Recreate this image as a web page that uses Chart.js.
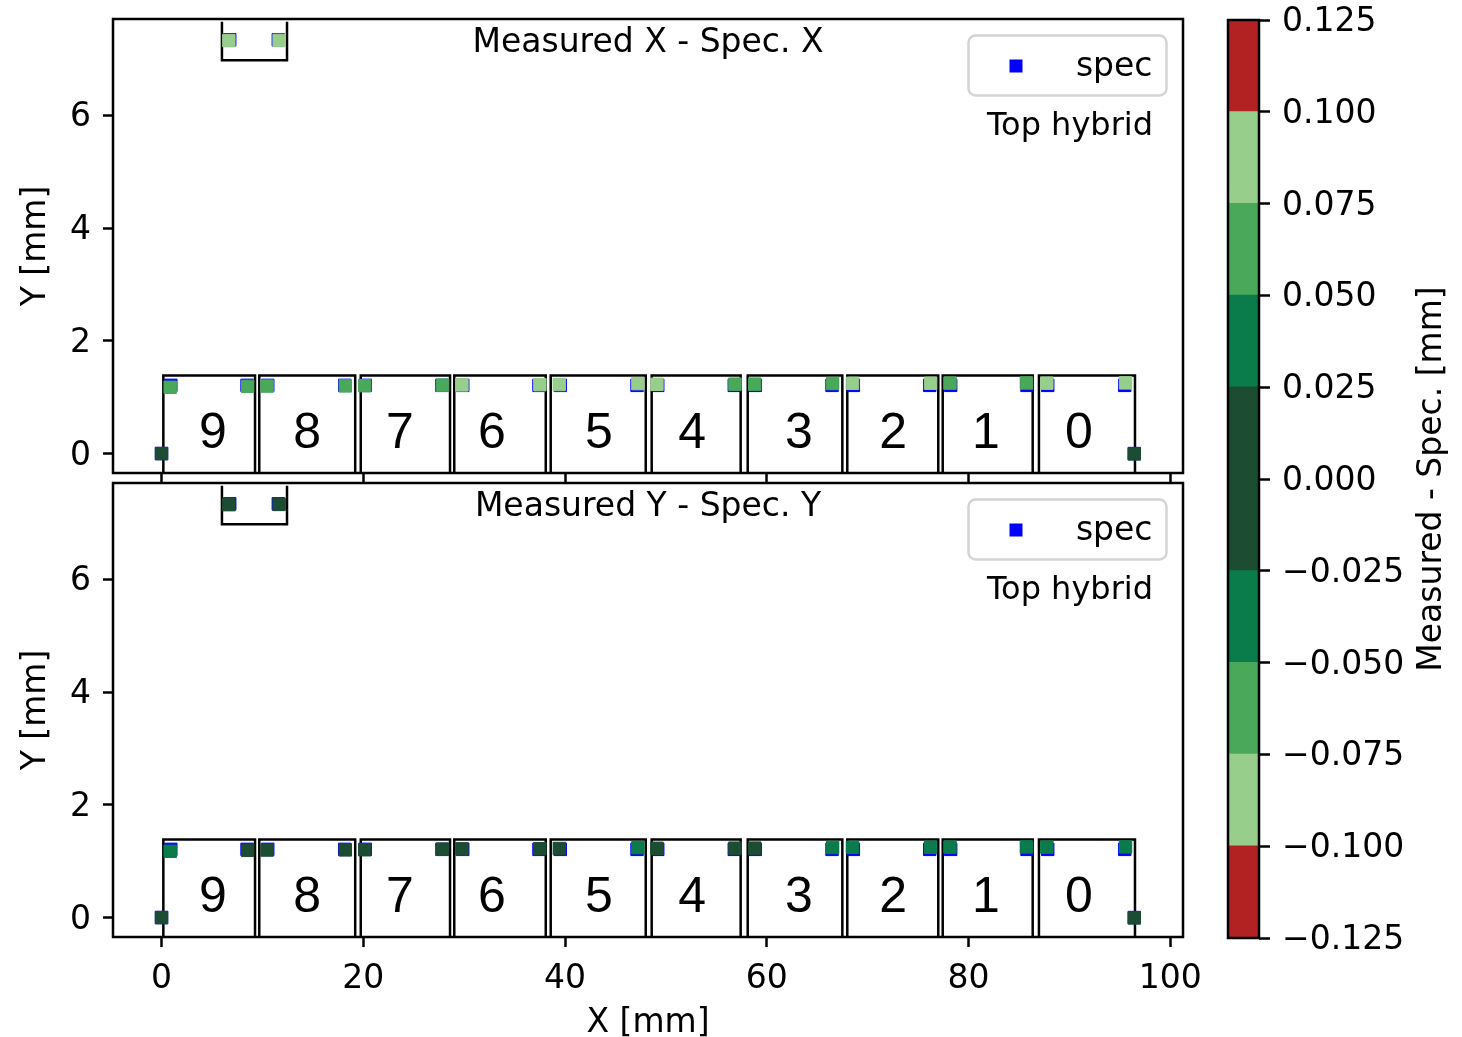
<!DOCTYPE html>
<html>
<head>
<meta charset="utf-8">
<script src="https://cdn.jsdelivr.net/npm/chart.js@4/dist/chart.umd.min.js"></script>
<style>
  html, body { margin: 0; padding: 0; background: #fff; overflow: hidden; width: 1462px; height: 1037px; }
  canvas { position: absolute; }
  #plotX { left: 0; top: 0; }
  #plotY { left: 0; top: 470px; }
  #cbar { left: 1200px; top: 0; }
</style>
</head>
<body>
<canvas id="plotX" width="1240" height="500" style="width:1240px;height:500px"></canvas>
<canvas id="plotY" width="1240" height="590" style="width:1240px;height:590px"></canvas>
<canvas id="cbar" width="262" height="1037" style="width:262px;height:1037px"></canvas>
<script>
// ---- hybrid layout (mm) ----
const chipIds    = ['9', '8', '7', '6', '5', '4', '3', '2', '1', '0'];
const chipLeft   = [0.18, 9.69, 19.75, 29.02, 38.58, 48.59, 58.11, 67.98, 77.44, 86.98];
const chipRight  = [9.27, 19.20, 28.60, 38.09, 48.00, 57.41, 67.49, 77.00, 86.36, 96.50];
const chipLabelX = [5.10, 14.43, 23.64, 32.76, 43.37, 52.59, 63.19, 72.52, 81.73, 90.95];
const chipTop = 1.385;
const chipBottom = -1.0;
const chipLabelY = 0.34;

// connector outline (open on top)
const bracketX = [5.99, 5.99, 12.44, 12.44];
const bracketY = [7.66, 6.98, 6.98, 7.66];

// fiducial points: left ref, chips 9..0 (left, right corner), right ref, connector pads
const specX = [0.00,
  0.92, 8.48, 10.53, 18.16, 20.20, 27.80, 29.86, 37.42, 39.53, 47.14,
  49.19, 56.78, 58.86, 66.47, 68.58, 76.15, 78.23, 85.80, 87.85, 95.48,
  96.43, 6.76, 11.58];
const specY = [0.00,
  1.21, 1.21, 1.21, 1.21, 1.21, 1.21, 1.21, 1.21, 1.21, 1.21,
  1.21, 1.21, 1.21, 1.21, 1.21, 1.21, 1.21, 1.21, 1.21, 1.21,
  0.00, 7.34, 7.34];

// measured - spec deviations (mm)
const devX = [0.000,
  -0.062, 0.058, -0.066, 0.061, -0.057, 0.064, -0.081, 0.086, -0.092, 0.083,
  -0.079, 0.068, -0.060, 0.055, -0.084, 0.088, -0.070, -0.063, -0.090, 0.082,
  0.004, -0.087, 0.080];
const devY = [0.000,
  -0.034, -0.018, -0.012, -0.009, -0.006, 0.004, 0.008, 0.012, 0.015, 0.031,
  0.019, 0.021, 0.022, 0.033, 0.036, 0.038, 0.040, 0.043, 0.039, 0.044,
  -0.006, -0.014, -0.010];

// axes
const xTicks = [0, 20, 40, 60, 80, 100];
const yTicks = [0, 2, 4, 6];
const xRange = [-4.81, 101.26];
const yRange = [-0.345, 7.71];

// colour scale
const cbTicks = [-0.125, -0.100, -0.075, -0.050, -0.025, 0.000, 0.025, 0.050, 0.075, 0.100, 0.125];
const cbColors = ['#b22222', '#98ce8b', '#49a859', '#0a7c4c', '#1c4d33',
                  '#1c4d33', '#0a7c4c', '#49a859', '#98ce8b', '#b22222'];

const FONT = "'DejaVu Sans', 'Noto Sans', sans-serif";
const CHIP_FONT = "'Liberation Sans', Arial, sans-serif";
const FS = 33;
const LINE_W = 2.5;

function devColor(v) {
  for (let i = 0; i < cbColors.length; i++) {
    if (v >= cbTicks[i] && v < cbTicks[i + 1]) return cbColors[i];
  }
  return v < cbTicks[0] ? cbColors[0] : cbColors[cbColors.length - 1];
}

function fmtMinus(v) {
  const s = Math.abs(v) < 1e-9 ? '0.000' : v.toFixed(3);
  return s.replace('-', '\u2212');
}

// let the layout padding alone decide where the plot area sits
function noLabelPadding(ax) {
  ax.paddingTop = 0; ax.paddingBottom = 0; ax.paddingLeft = 0; ax.paddingRight = 0;
}

// frame, titles, chip numbers and legend for one panel
const decor = {
  id: 'decor',
  afterDraw(chart, args, o) {
    const { ctx, chartArea: a } = chart;
    const xs = chart.scales.x, ys = chart.scales.y;
    ctx.save();

    // chip numbers
    ctx.fillStyle = '#000';
    ctx.font = '50px ' + CHIP_FONT;
    ctx.textAlign = 'center';
    ctx.textBaseline = 'middle';
    chipIds.forEach((id, i) => {
      ctx.fillText(id, xs.getPixelForValue(chipLabelX[i]), ys.getPixelForValue(chipLabelY));
    });

    // panel title
    ctx.font = FS + 'px ' + FONT;
    ctx.textBaseline = 'alphabetic';
    ctx.fillText(o.title, (a.left + a.right) / 2, a.top + 33);

    // legend box
    const bw = 198, bh = 60;
    const bx = a.right - 16.5 - bw, by = a.top + 16.5;
    ctx.beginPath();
    ctx.roundRect(bx, by, bw, bh, 7);
    ctx.fillStyle = 'rgba(255,255,255,0.8)';
    ctx.fill();
    ctx.lineWidth = 2.5;
    ctx.strokeStyle = '#d4d4d4';
    ctx.stroke();
    const spec = chart.data.datasets.find(d => d.label === 'spec');
    ctx.fillStyle = spec.pointBackgroundColor;
    ctx.fillRect(bx + 47.5 - 6.5, by + 30.5 - 6.5, 13, 13);
    ctx.fillStyle = '#000';
    ctx.textAlign = 'right';
    ctx.fillText(spec.label, bx + 184, by + 40);
    ctx.font = '32px ' + FONT;
    ctx.fillText('Top hybrid', a.right - 30, a.top + 116);

    // spines
    ctx.strokeStyle = '#000';
    ctx.lineWidth = LINE_W;
    ctx.strokeRect(a.left, a.top, a.right - a.left, a.bottom - a.top);
    ctx.restore();
  }
};

function panelDatasets(dev) {
  const sets = [];
  chipIds.forEach((id, i) => {
    const l = chipLeft[i], r = chipRight[i];
    sets.push({
      label: 'chip ' + id,
      data: [{ x: l, y: chipBottom }, { x: l, y: chipTop }, { x: r, y: chipTop }, { x: r, y: chipBottom }, { x: l, y: chipBottom }],
      showLine: true, borderColor: '#000', borderWidth: LINE_W, pointRadius: 0, fill: false, order: 3
    });
  });
  sets.push({
    label: 'connector',
    data: bracketX.map((x, i) => ({ x, y: bracketY[i] })),
    showLine: true, borderColor: '#000', borderWidth: LINE_W, pointRadius: 0, fill: false, order: 3
  });
  sets.push({
    label: 'spec',
    data: specX.map((x, i) => ({ x, y: specY[i] })),
    pointStyle: 'rect', pointRadius: 8.8, pointBorderWidth: 1,
    pointBackgroundColor: '#0000ff', pointBorderColor: '#0000ff', showLine: false, order: 2
  });
  const colors = dev.map(devColor);
  sets.push({
    label: 'measured',
    data: specX.map((x, i) => ({ x: x + devX[i], y: specY[i] + devY[i] })),
    pointStyle: 'rect', pointRadius: 8.8, pointBorderWidth: 1,
    pointBackgroundColor: colors, pointBorderColor: colors, showLine: false, order: 1
  });
  return sets;
}

function panelOptions(title, withXLabels, xAxisHeight, padTop) {
  const tickFont = { family: FONT, size: FS };
  return {
    responsive: false,
    animation: false,
    events: [],
    layout: { padding: { top: padTop, right: 57, left: 0, bottom: 0 } },
    plugins: { legend: { display: false }, tooltip: { enabled: false }, decor: { title } },
    scales: {
      x: {
        type: 'linear', position: 'bottom', min: xRange[0], max: xRange[1],
        afterBuildTicks: ax => { ax.ticks = xTicks.map(v => ({ value: v })); },
        afterFit: ax => { ax.height = xAxisHeight; noLabelPadding(ax); },
        border: { display: false },
        grid: { drawOnChartArea: false, drawTicks: true, tickLength: 10, tickWidth: LINE_W, tickColor: '#000' },
        ticks: { display: withXLabels, color: '#000', font: tickFont, padding: 13, maxRotation: 0, callback: v => String(v) },
        title: { display: withXLabels, text: 'X [mm]', color: '#000', font: tickFont, padding: { top: 0, bottom: 17 } }
      },
      y: {
        type: 'linear', position: 'left', min: yRange[0], max: yRange[1],
        afterBuildTicks: ax => { ax.ticks = yTicks.map(v => ({ value: v })); },
        afterFit: ax => { ax.width = 113; noLabelPadding(ax); },
        border: { display: false },
        grid: { drawOnChartArea: false, drawTicks: true, tickLength: 10, tickWidth: LINE_W, tickColor: '#000' },
        ticks: { color: '#000', font: tickFont, padding: 12, labelOffset: 2.5, callback: v => String(v) },
        title: { display: true, text: 'Y [mm]', color: '#000', font: tickFont, padding: { top: 17, bottom: 0 } }
      }
    }
  };
}

new Chart(document.getElementById('plotX'), {
  type: 'scatter',
  data: { datasets: panelDatasets(devX) },
  options: panelOptions('Measured X - Spec. X', false, 27, 19),
  plugins: [decor]
});

new Chart(document.getElementById('plotY'), {
  type: 'scatter',
  data: { datasets: panelDatasets(devY) },
  options: panelOptions('Measured Y - Spec. Y', true, 123, 13),
  plugins: [decor]
});

// colour bar
const cbarDecor = {
  id: 'cbarDecor',
  afterDraw(chart) {
    const { ctx, chartArea: a } = chart;
    ctx.save();
    ctx.strokeStyle = '#000';
    ctx.lineWidth = LINE_W;
    ctx.strokeRect(a.left, a.top, a.right - a.left, a.bottom - a.top);
    ctx.translate(232, (a.top + a.bottom) / 2);
    ctx.rotate(-Math.PI / 2);
    ctx.font = FS + 'px ' + FONT;
    ctx.fillStyle = '#000';
    ctx.textAlign = 'center';
    ctx.textBaseline = 'middle';
    ctx.fillText('Measured - Spec. [mm]', 0, 0);
    ctx.restore();
  }
};

new Chart(document.getElementById('cbar'), {
  type: 'bar',
  data: {
    labels: [''],
    datasets: cbColors.map((c, i) => ({
      label: fmtMinus(cbTicks[i]),
      data: [[cbTicks[i], cbTicks[i + 1]]],
      backgroundColor: c, borderWidth: 0, inflateAmount: 0.6,
      barPercentage: 1, categoryPercentage: 1, grouped: false
    }))
  },
  options: {
    responsive: false,
    animation: false,
    events: [],
    layout: { padding: { left: 28, top: 20, bottom: 99, right: 0 } },
    plugins: { legend: { display: false }, tooltip: { enabled: false } },
    scales: {
      x: { display: false },
      y: {
        position: 'right', min: cbTicks[0], max: cbTicks[cbTicks.length - 1],
        afterBuildTicks: ax => { ax.ticks = cbTicks.map(v => ({ value: v })); },
        afterFit: ax => { ax.width = 203; noLabelPadding(ax); },
        border: { display: false },
        grid: { drawOnChartArea: false, drawTicks: true, tickLength: 11, tickWidth: LINE_W, tickColor: '#000' },
        ticks: { color: '#000', font: { family: FONT, size: FS }, padding: 12, labelOffset: 2.5, callback: v => fmtMinus(v) }
      }
    }
  },
  plugins: [cbarDecor]
});
</script>
</body>
</html>
